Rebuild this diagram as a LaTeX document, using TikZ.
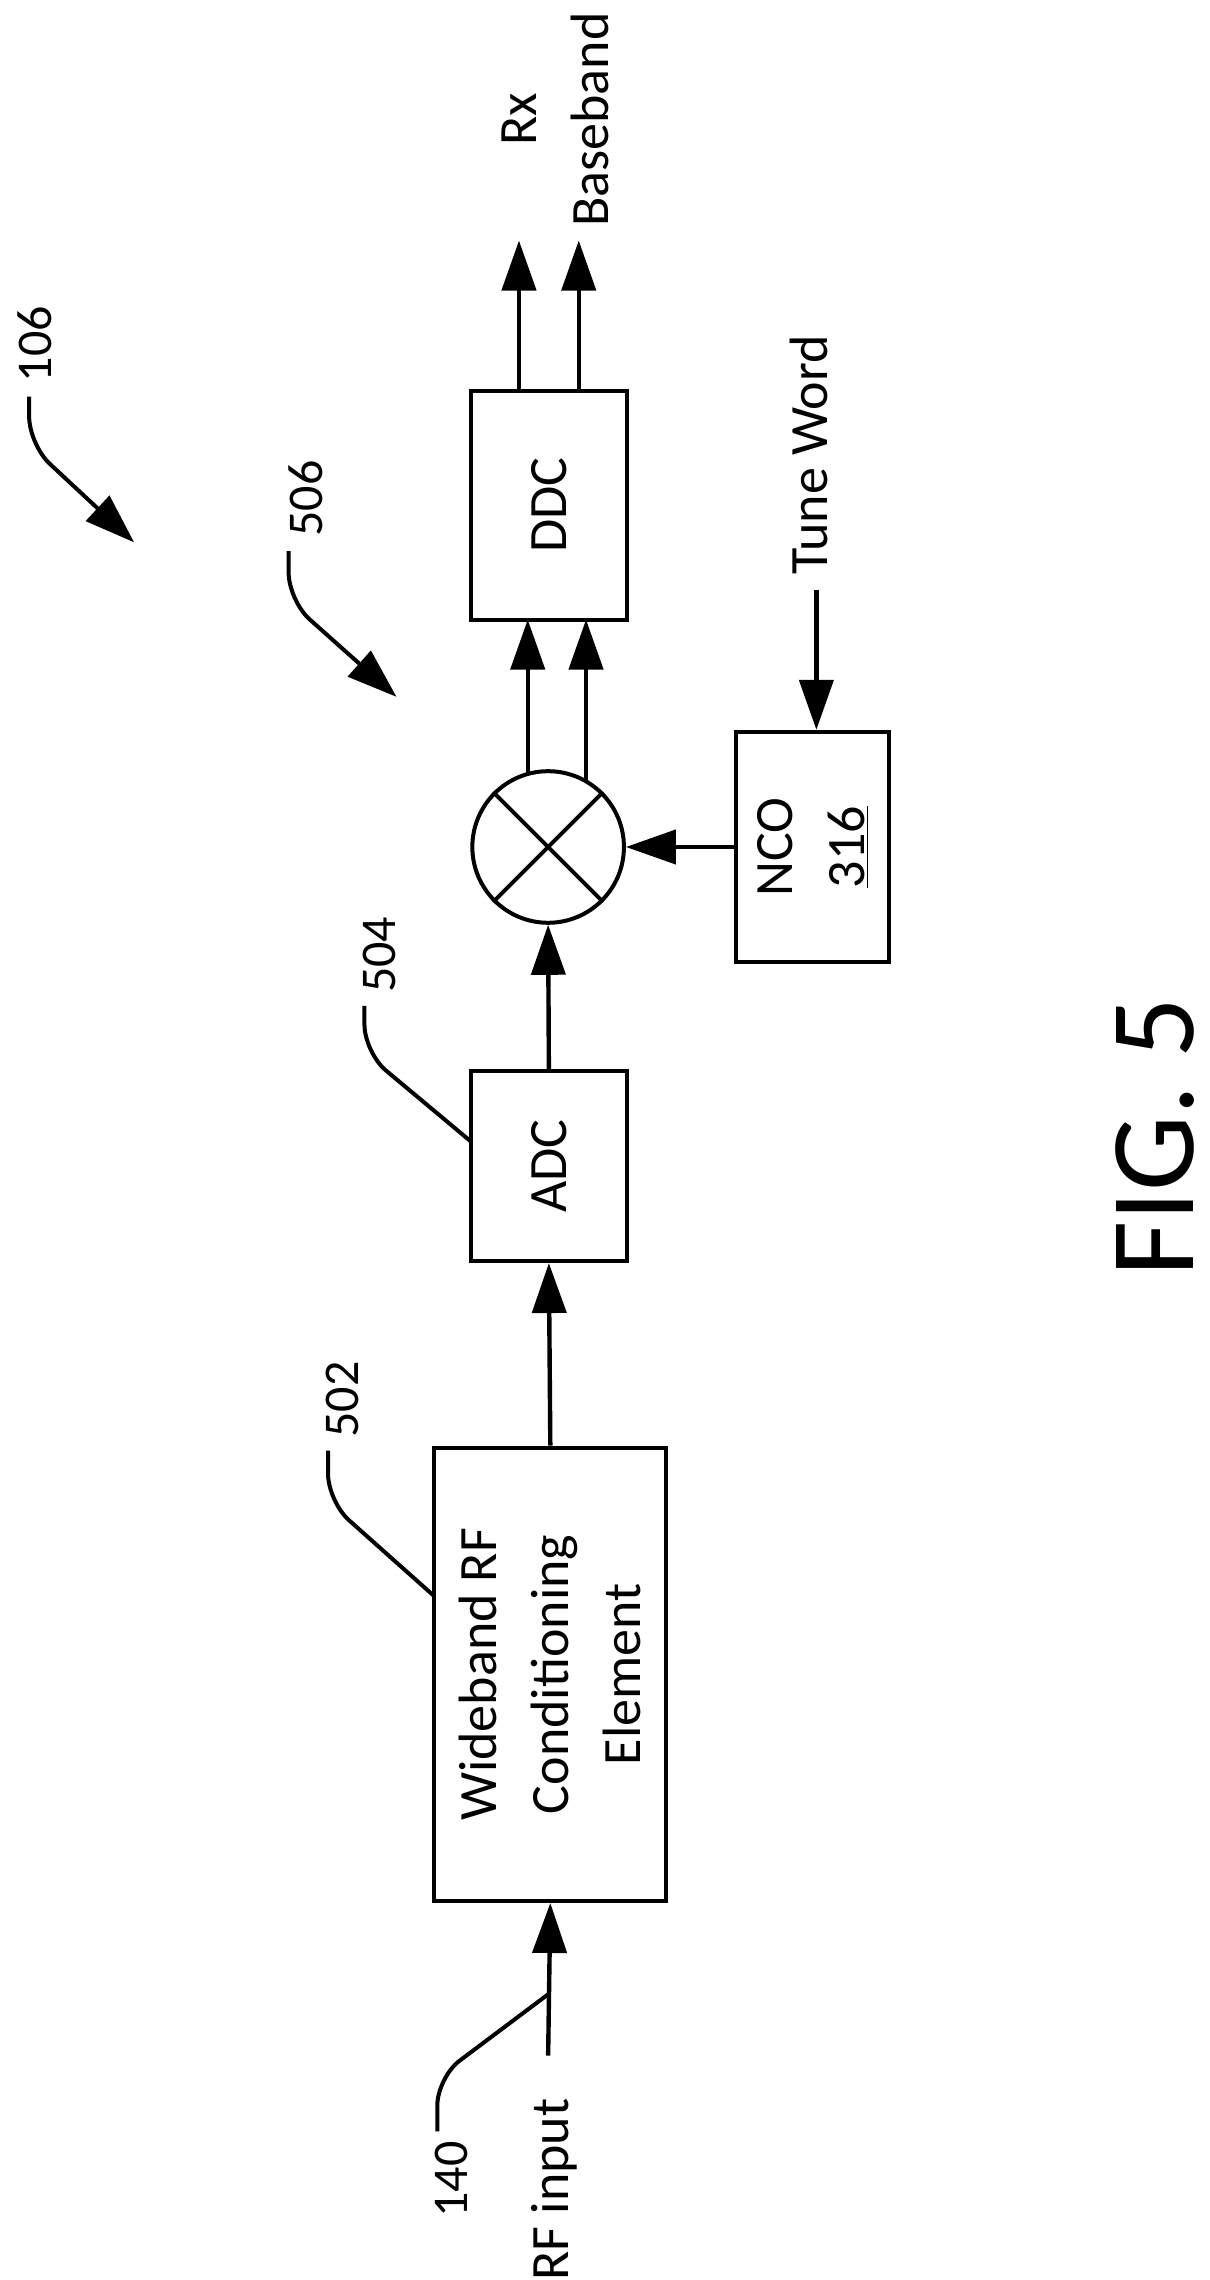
\documentclass[tikz,border=0pt]{standalone}
\usepackage{fontspec}
\setmainfont{Carlito}
\usetikzlibrary{arrows.meta,calc}
\begin{document}
\begin{tikzpicture}[x=0.7289pt,y=-0.7289pt,
  box/.style={draw,line width=2pt,inner sep=0pt},
  lbl/.style={rotate=90,font=\fontsize{27}{36}\selectfont,align=center,inner sep=0pt},
  num/.style={rotate=90,font=\fontsize{25}{30}\selectfont,inner sep=0pt},
  sig/.style={line width=2.2pt,-{Triangle[length=25pt,width=17pt]}},
  lead/.style={line width=2pt,rounded corners=14pt},
  leadarr/.style={lead,-{Triangle[length=25pt,width=17pt]}}]
\useasboundingbox (0,0) rectangle (830,1564);
% boxes
\node[box,minimum width=78pt,minimum height=114.4pt] (ddc) at (376.5,346.5) {};
\node[box,minimum width=76.5pt,minimum height=115.2pt] (nco) at (557.5,581) {};
\node[box,minimum width=78pt,minimum height=94.8pt] (adc) at (376.5,800) {};
\node[box,minimum width=115.9pt,minimum height=226.7pt] (wrf) at (377.5,1148.5) {};
\node[draw,circle,line width=2pt,minimum size=75.8pt,inner sep=0pt] (mix) at (376,581) {};
\draw[line width=2pt] (mix.45)--(mix.225) (mix.135)--(mix.315);
% texts
\node[lbl] (tddc) at (ddc.center) {DDC};
\node[lbl] (tnco) at (nco.center) {NCO\\\underline{316}};
\node[lbl] (tadc) at (adc.center) {ADC};
\node[lbl] (twrf) at (wrf.center) {Wideband RF\\Conditioning\\Element};
\node[lbl] (rx) at (381,82) {Rx\\Baseband};
\node[lbl] (tune) at (555,312) {Tune Word};
\node[lbl] (rfin) at (380,1502) {RF input};
\node[rotate=90,font=\fontsize{60}{62}\selectfont,inner sep=0pt] (fig) at (792,780) {FIG. 5};
\node[num] (n106) at (24,236) {106};
\node[num] (n506) at (210,342) {506};
\node[num] (n504) at (260,655) {504};
\node[num] (n502) at (235,960) {502};
\node[num] (n140) at (310,1495) {140};
% coordinates
\coordinate (o1s) at (356,268); \coordinate (o1e) at (356,165);
\coordinate (o2s) at (397,268); \coordinate (o2e) at (397,165);
\coordinate (m1s) at (362,531); \coordinate (m1e) at (362,425);
\coordinate (m2s) at (402,536); \coordinate (m2e) at (402,425);
\coordinate (tws) at (560,405);
\coordinate (rfs) at (376,1410);
% signal arrows
\draw[sig] (o1s)--(o1e);
\draw[sig] (o2s)--(o2e);
\draw[sig] (m1s)--(m1e);
\draw[sig] (m2s)--(m2e);
\draw[sig] (nco.west)--(mix.east);
\draw[sig] (tws)--(tws|-nco.north);
\draw[sig] (adc.north)--(mix.south);
\draw[sig] (wrf.north)--(adc.south);
\draw[sig] (rfs)--(wrf.south);
% leaders
\coordinate (l106) at (20,272); \coordinate (e106) at (92,372);
\draw[leadarr] (l106)--(20,305)--(e106);
\coordinate (l506) at (198,378); \coordinate (e506) at (272,478);
\draw[leadarr] (l506)--(198,412)--(e506);
\coordinate (l504) at (250,690); \coordinate (e504) at (323,783);
\draw[lead] (l504)--(250,722)--(e504);
\coordinate (l502) at (225,995); \coordinate (e502) at (298,1095);
\draw[lead] (l502)--(225,1030)--(e502);
\coordinate (l140) at (300,1462); \coordinate (e140) at (376,1368);
\draw[lead] (l140)--(300,1425)--(e140);
\end{tikzpicture}
\end{document}
